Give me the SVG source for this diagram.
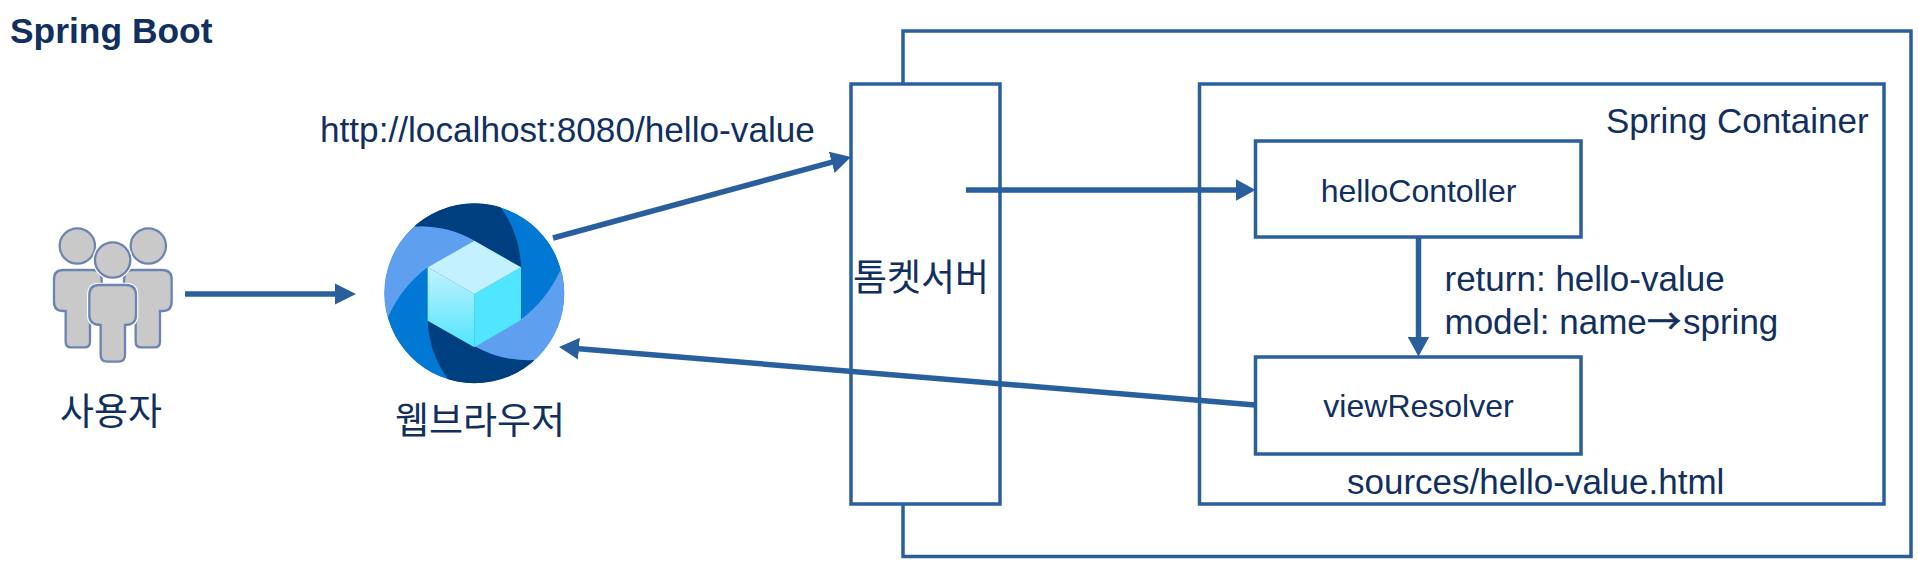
<svg xmlns="http://www.w3.org/2000/svg" width="1918" height="564" viewBox="0 0 1918 564">
<style>
.box{fill:#fff;stroke:#2a5f9e;stroke-width:3.5}
.t{font-family:"Liberation Sans",Arial,sans-serif;font-size:35px;fill:#112f5f}
.n{font-size:32px;text-anchor:middle}
.k{font-family:"Noto Sans CJK KR","Liberation Sans",sans-serif;font-size:37px;fill:#112f5f;text-anchor:middle}
.c{fill:none;stroke:#2a5f9e;stroke-width:5.5}
.p{fill:#c9c9c9;stroke:#6c84b4;stroke-width:7}
</style>
<defs>
<marker id="a" markerUnits="userSpaceOnUse" markerWidth="22" markerHeight="22" refX="9" refY="11" orient="auto"><path d="M0 0L20 11L0 22Z" fill="#2a5f9e"/></marker>
<linearGradient id="lf" x1="0" y1="0" x2="0" y2="1"><stop offset="0" stop-color="#c3f1ff"/><stop offset="1" stop-color="#50e6ff"/></linearGradient>
<clipPath id="gc"><circle cx="343" cy="310" r="270"/></clipPath>
</defs>
<text x="10" y="43" class="t" font-weight="bold" style="font-size:35.4px">Spring Boot</text>
<g id="server-frame"><rect class="box" x="903" y="31" width="1008" height="525.5"/></g>
<g id="tomcat"><rect class="box" x="851" y="84" width="149" height="420"/><text class="k" x="921" y="291">톰켓서버</text></g>
<g id="spring-container"><rect class="box" x="1199.5" y="84" width="684.5" height="420"/><text class="t" x="1606" y="132.5">Spring Container</text><text class="t" x="1347" y="494">sources/hello-value.html</text></g>
<g id="helloController"><rect class="box" x="1255.5" y="141" width="325.500" height="96"/><text class="t n" x="1418.500" y="202">helloContoller</text></g>
<g id="viewResolver"><rect class="box" x="1255.5" y="357" width="325.500" height="97"/><text class="t n" x="1418.500" y="417">viewResolver</text></g>
<g id="user">
<g transform="translate(30 210) scale(.3333)">
<path class="p" d="M100 180H190Q215 180 215 210V225L180 300V395Q180 412 163 412H124Q107 412 107 395V303H100Q72 303 72 275V208Q72 180 100 180Z"/>
<path class="p" d="M397 180H307Q282 180 282 210V225L317 300V395Q317 412 334 412H373Q390 412 390 395V303H397Q425 303 425 275V208Q425 180 397 180Z"/>
<circle class="p" cx="142" cy="108" r="53"/><circle class="p" cx="355" cy="108" r="53"/>
<path d="M208 225H288Q318 225 318 255V315Q318 345 285 345V435Q285 455 265 455H232Q212 455 212 435V345Q178 345 178 315V255Q178 225 208 225Z" fill="#c9c9c9" stroke="#fff" stroke-width="14"/>
<path class="p" d="M208 225H288Q318 225 318 255V315Q318 345 285 345V435Q285 455 265 455H232Q212 455 212 435V345Q178 345 178 315V255Q178 225 208 225Z"/>
<circle cx="248" cy="150" r="53" fill="#c9c9c9" stroke="#fff" stroke-width="14"/>
<circle class="p" cx="248" cy="150" r="53"/>
</g>
<text class="k" x="111" y="425">사용자</text></g>
<g id="browser">
<g transform="translate(360 190) scale(.3333)" clip-path="url(#gc)">
<circle cx="343" cy="310" r="270" fill="#0078d4"/>
<path d="M165 110L165 10L420 10L420 50Q480 130 483 232L343 152Q260 105 165 110Z" fill="#003f7f"/>
<path d="M521 510L521 610L266 610L266 570Q206 490 203 388L343 468Q426 515 521 510Z" fill="#003f7f"/>
<path d="M165 110Q260 105 343 152L203 232Q125 290 85 380L40 300L60 60Z" fill="#5ea0ef"/>
<path d="M521 510Q426 515 343 468L483 388Q561 330 601 240L646 320L626 560Z" fill="#5ea0ef"/>
<path d="M343 312L483 232V390L343 472Z" fill="#50e6ff"/>
<path d="M343 312L203 232V392L343 472Z" fill="url(#lf)"/>
<path d="M343 152L483 232L343 312L203 232Z" fill="#c3f1ff"/>
</g>
<text class="k" x="480" y="434">웹브라우저</text></g>
<g id="connectors">
<path class="c" d="M185 294H346"/>
<path d="M335 283.500L356 294L335 304.500Z" fill="#2a5f9e"/>
<path class="c" d="M553 238L840.400 159.900" marker-end="url(#a)"/>
<path class="c" d="M966 190H1244.500" marker-end="url(#a)"/>
<path class="c" d="M1418.500 237V345.500" marker-end="url(#a)"/>
<path class="c" d="M1255 405L570 347.900" marker-end="url(#a)"/>
</g>
<text class="t" x="320" y="142" style="font-size:35.2px">http://localhost:8080/hello-value</text>
<text class="t" x="1444.500" y="291">return: hello-value</text>
<text class="t" x="1444.500" y="334">model: name<tspan x="1647" style="font-family:'Noto Sans CJK KR',sans-serif;font-size:34px;stroke:#112f5f;stroke-width:.7">→</tspan><tspan x="1683">spring</tspan></text>
</svg>
